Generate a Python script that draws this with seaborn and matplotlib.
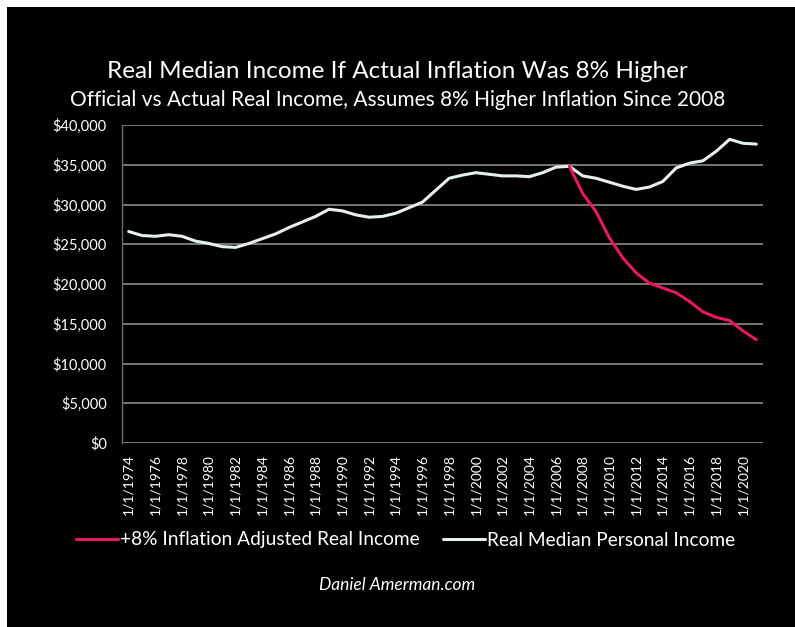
import numpy as np
import pandas as pd
import seaborn as sns
import matplotlib.pyplot as plt
from matplotlib.lines import Line2D
from matplotlib.patches import Rectangle

# values (annual, 1974-2021)
years = list(range(1974, 2022))
real_income = [26600, 26100, 26000, 26200, 26000, 25400, 25100, 24700, 24600, 25100,
               25700, 26300, 27100, 27800, 28500, 29400, 29200, 28700, 28400, 28500,
               28900, 29600, 30300, 31800, 33300, 33700, 34000, 33800, 33600, 33600,
               33500, 34000, 34700, 34800, 33600, 33300, 32800, 32300, 31900, 32200,
               32900, 34600, 35200, 35500, 36700, 38200, 37700, 37600]
# +8% inflation scenario only exists from 2007 on
adj_years = list(range(2007, 2022))
adj_income = [34800, 31400, 29100, 25800, 23300, 21400, 20100, 19500, 18900, 17800,
              16500, 15800, 15400, 14100, 13000]

label_adj = '+8% Inflation Adjusted Real Income'
label_real = 'Real Median Personal Income'

df = pd.concat([
    pd.DataFrame({'year': years, 'income': real_income, 'series': label_real}),
    pd.DataFrame({'year': adj_years, 'income': adj_income, 'series': label_adj}),
])

sns.set_style('dark')
plt.rcParams['font.family'] = ['Lato', 'DejaVu Sans']

red = '#e8185a'
fig = plt.figure(figsize=(7.95, 6.27), dpi=100, facecolor='white')
# black card with the thin white margin at top/left
fig.patches.append(Rectangle((7 / 795, 0), 1, 1 - 7 / 627, transform=fig.transFigure,
                             facecolor='black', edgecolor='none', zorder=-1))

ax = fig.add_axes([122 / 795, 1 - 443 / 627, 641 / 795, 318 / 627])
ax.set_facecolor('black')

sns.lineplot(data=df, x='year', y='income', hue='series',
             palette={label_real: '#e6f0ea', label_adj: red},
             hue_order=[label_real, label_adj], linewidth=2.2, legend=False, ax=ax)

ax.set_xlim(1973.5, 2021.5)
ax.set_ylim(0, 40000)
ax.set_yticks(np.arange(0, 40001, 5000))
ax.set_yticklabels(['${:,.0f}'.format(v) for v in np.arange(0, 40001, 5000)])
ax.set_xticks(years[::2])
ax.set_xticklabels(['1/1/%d' % y for y in years[::2]], rotation=90)
ax.set_xticks([y - 0.5 for y in years[::2]] + [2021.5], minor=True)

ax.grid(axis='y', color='#8a8a8a', linewidth=1.2)
ax.grid(axis='x', visible=False)
ax.set_axisbelow(True)
for s in ['top', 'right', 'bottom']:
    ax.spines[s].set_visible(False)
ax.spines['left'].set_color('#6a6a6a')
ax.spines['left'].set_linewidth(1)
ax.tick_params(axis='y', colors='#8a8a8a', length=5, width=1, labelcolor='white',
               labelsize=10.5, pad=6)
ax.tick_params(axis='x', which='major', length=0, labelcolor='white', labelsize=10, pad=8)
ax.tick_params(axis='x', which='minor', length=3, color='#8a8a8a', width=1)
ax.set_xlabel('')
ax.set_ylabel('')

fig.text(0.5, 1 - 72 / 627, 'Real Median Income If Actual Inflation Was 8% Higher',
         ha='center', va='center', color='white', fontsize=17.5)
fig.text(0.5, 1 - 100 / 627,
         'Official vs Actual Real Income, Assumes 8% Higher Inflation Since 2008',
         ha='center', va='center', color='white', fontsize=15)

handles = [Line2D([], [], color=red, linewidth=2.2),
           Line2D([], [], color='#e6f0ea', linewidth=2.2)]
fig.legend(handles, [label_adj, label_real], loc='center', ncol=2,
           bbox_to_anchor=(0.51, 1 - 540 / 627), frameon=False, fontsize=13.8,
           labelcolor='white', handlelength=2.2, handletextpad=0.1, columnspacing=1.2)

fig.text(0.5, 1 - 585 / 627, 'Daniel Amerman.com', ha='center', va='center',
         color='white', fontsize=12.5, style='italic')

fig.savefig('out.png', dpi=100, facecolor=fig.get_facecolor())
